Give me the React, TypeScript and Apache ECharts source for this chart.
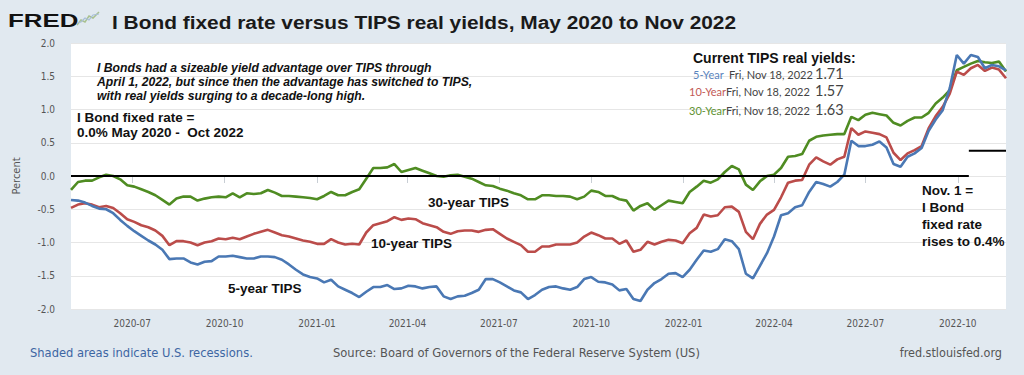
import React, { useEffect, useRef } from "react";
import * as echarts from "echarts";

// ---- Data (weekly, Fridays, May 1 2020 .. Nov 18 2022) ----
const FIRST_WEEK = [2020, 4, 1]; // 2020-05-01
const tips5: number[] = [
  -0.36, -0.37, -0.4, -0.45, -0.49, -0.5, -0.56, -0.66, -0.75, -0.83,
  -0.9, -0.97, -1.03, -1.11, -1.25, -1.24, -1.24, -1.3, -1.33, -1.29,
  -1.28, -1.21, -1.21, -1.2, -1.22, -1.24, -1.24, -1.21, -1.21, -1.22,
  -1.26, -1.33, -1.41, -1.48, -1.52, -1.54, -1.6, -1.56, -1.66, -1.71,
  -1.76, -1.82, -1.74, -1.67, -1.67, -1.64, -1.7, -1.69, -1.65, -1.66,
  -1.69, -1.67, -1.66, -1.81, -1.85, -1.81, -1.8, -1.76, -1.71, -1.55,
  -1.55, -1.6, -1.66, -1.72, -1.75, -1.85, -1.79, -1.71, -1.67, -1.66,
  -1.69, -1.71, -1.67, -1.55, -1.52, -1.59, -1.6, -1.63, -1.72, -1.7,
  -1.85, -1.88, -1.71, -1.61, -1.55, -1.47, -1.46, -1.52, -1.41, -1.26,
  -1.12, -1.14, -1.1, -0.95, -0.98, -1.1, -1.47, -1.54, -1.35, -1.16,
  -0.91, -0.59, -0.56, -0.47, -0.44, -0.24, -0.09, -0.12, -0.16, -0.09,
  0.02, 0.53, 0.45, 0.45, 0.47, 0.52, 0.43, 0.18, 0.14, 0.29,
  0.34, 0.42, 0.68, 0.85, 0.99, 1.32, 1.82, 1.69, 1.82, 1.79,
  1.62, 1.67, 1.65, 1.59,
];
const tips10: number[] = [
  -0.48, -0.43, -0.41, -0.43, -0.47, -0.45, -0.48, -0.56, -0.65, -0.69,
  -0.74, -0.77, -0.82, -0.9, -1.04, -0.98, -0.98, -1.0, -1.04, -1.0,
  -0.98, -0.94, -0.95, -0.93, -0.95, -0.91, -0.87, -0.84, -0.81, -0.85,
  -0.89, -0.91, -0.94, -0.97, -0.99, -1.02, -1.02, -0.95, -1.0, -1.03,
  -1.02, -1.03, -0.85, -0.74, -0.71, -0.68, -0.62, -0.66, -0.64, -0.65,
  -0.71, -0.74, -0.77, -0.84, -0.87, -0.83, -0.82, -0.82, -0.84, -0.81,
  -0.8, -0.87, -0.94, -0.99, -1.04, -1.14, -1.14, -1.06, -1.06, -1.03,
  -1.03, -1.03, -1.0, -0.91, -0.85, -0.89, -0.94, -0.94, -1.02, -0.97,
  -1.14, -1.11, -0.99, -1.03, -0.99, -0.96, -0.97, -1.01, -0.86, -0.78,
  -0.58, -0.61, -0.59, -0.47, -0.46, -0.54, -0.84, -0.95, -0.72, -0.58,
  -0.51, -0.32, -0.1, -0.07, -0.06, 0.17, 0.28, 0.22, 0.17, 0.25,
  0.29, 0.72, 0.62, 0.67, 0.65, 0.63, 0.58, 0.35, 0.24, 0.34,
  0.39, 0.45, 0.72, 0.9, 1.04, 1.24, 1.57, 1.52, 1.62, 1.67,
  1.58, 1.63, 1.6, 1.47,
];
const tips30: number[] = [
  -0.21, -0.09, -0.07, -0.07, -0.02, 0.02, 0.0, -0.05, -0.14, -0.16,
  -0.2, -0.24, -0.29, -0.36, -0.43, -0.34, -0.31, -0.31, -0.37, -0.34,
  -0.32, -0.31, -0.32, -0.26, -0.32, -0.26, -0.27, -0.26, -0.21, -0.25,
  -0.3, -0.3, -0.31, -0.32, -0.33, -0.35, -0.3, -0.24, -0.29, -0.29,
  -0.24, -0.2, -0.04, 0.12, 0.12, 0.13, 0.18, 0.06, 0.09, 0.12,
  0.08, 0.04, 0.0, -0.01, 0.01, 0.02, -0.01, -0.04, -0.09, -0.14,
  -0.15, -0.19, -0.22, -0.26, -0.29, -0.35, -0.35, -0.29, -0.29, -0.3,
  -0.3, -0.31, -0.35, -0.31, -0.22, -0.24, -0.3, -0.3, -0.35, -0.37,
  -0.52, -0.45, -0.41, -0.51, -0.44, -0.37, -0.39, -0.41, -0.24, -0.16,
  -0.07, -0.1, -0.05, 0.06, 0.15, 0.1, -0.13, -0.21, -0.08, 0.0,
  0.02, 0.12, 0.29, 0.3, 0.33, 0.53, 0.59, 0.61, 0.62, 0.63,
  0.63, 0.89, 0.84, 0.92, 0.95, 0.93, 0.91, 0.8, 0.76, 0.83,
  0.88, 0.88, 0.95, 1.09, 1.18, 1.29, 1.59, 1.64, 1.69, 1.73,
  1.71, 1.7, 1.72, 1.57,
];
// I Bond fixed-rate reference lines
const oldFixedDates = ["2020-05-01", "2022-10-12"];
const oldFixedValues = [0, 0];
const newFixedDates = ["2022-10-12", "2022-11-18"];
const newFixedValues = [0.38, 0.38];

const xMin = "2020-05-01";
const xMax = "2022-11-18";

const legendNames = ["5-Year", "10-Year", "30-Year"];
const legendDates = ["Fri, Nov 18, 2022", "Fri, Nov 18, 2022", "Fri, Nov 18, 2022"];
const legendValues = ["1.71", "1.57", "1.63"];

const COLORS = { t5: "#4a78b4", t10: "#bb4c4a", t30: "#4f8c22" };
const LEGEND_COLORS = ["#5a84bd", "#c25a56", "#5e9232"];

const ARIAL = "'Liberation Sans', Arial, sans-serif";
const NARROW = "'Liberation Sans Narrow', 'DejaVu Sans Condensed', 'Arial Narrow', 'Liberation Sans', sans-serif";

function weeklyDates(n: number): number[] {
  const out: number[] = [];
  for (let i = 0; i < n; i++) {
    out.push(new Date(FIRST_WEEK[0], FIRST_WEEK[1], FIRST_WEEK[2] + 7 * i).getTime());
  }
  return out;
}

function toTs(s: string): number {
  const [y, m, d] = s.split("-").map(Number);
  return new Date(y, m - 1, d).getTime();
}

function txt(x: number, y: number, text: string, font: string, fill: string, extra: any = {}) {
  return {
    type: "text",
    x,
    y,
    z: 100,
    silent: true,
    ...extra,
    style: {
      text,
      font,
      fill,
      align: extra.align || "left",
      textAlign: extra.align || "left",
      verticalAlign: "middle",
      textVerticalAlign: "middle",
    },
  };
}

export default function App() {
  const ref = useRef<HTMLDivElement>(null);
  useEffect(() => {
    if (!ref.current) return;
    const chart = echarts.init(ref.current, null, { renderer: "svg" });
    const dates = weeklyDates(tips5.length);
    const mk = (vals: number[]) => dates.map((d, i) => [d, vals[i]]);
    const DAY = 24 * 3600 * 1000;

    const graphics: any[] = [
      // FRED logo
      txt(8, 20, "FRED", `bold 19px ${ARIAL}`, "#111", { scaleX: 1.36 }),
      {
        type: "polyline",
        silent: true,
        z: 100,
        shape: { points: [[77, 25], [81, 20], [85, 22], [89, 16], [93, 18], [99, 12]] },
        style: { stroke: "#a9c18f", lineWidth: 1.5, fill: null },
      },
      {
        type: "polyline",
        silent: true,
        z: 100,
        shape: { points: [[77, 23], [81, 22], [85, 18], [89, 20], [93, 15], [99, 14]] },
        style: { stroke: "#a9bfd8", lineWidth: 1.2, fill: null },
      },
      txt(112, 23, "I Bond fixed rate versus TIPS real yields, May 2020 to Nov 2022", `bold 18px ${ARIAL}`, "#1a1a1a", { scaleX: 1.16 }),
      // italic note
      txt(97, 68, "I Bonds had a sizeable yield advantage over TIPS through", `italic bold 12.2px ${ARIAL}`, "#111"),
      txt(97, 82, "April 1, 2022, but since then the advantage has switched to TIPS,", `italic bold 12.2px ${ARIAL}`, "#111"),
      txt(97, 96, "with real yields surging to a decade-long high.", `italic bold 12.2px ${ARIAL}`, "#111"),
      // fixed-rate annotation
      txt(77, 117, "I Bond fixed rate =", `bold 13.5px ${ARIAL}`, "#111"),
      txt(77, 132, "0.0% May 2020 -  Oct 2022", `bold 13.5px ${ARIAL}`, "#111"),
      // series labels
      txt(428, 202, "30-year TIPS", `bold 13.5px ${ARIAL}`, "#111"),
      txt(371, 243, "10-year TIPS", `bold 13.5px ${ARIAL}`, "#111"),
      txt(228, 288, "5-year TIPS", `bold 13.5px ${ARIAL}`, "#111"),
      // Nov 1 note
      txt(922, 190, "Nov. 1 =", `bold 13.5px ${ARIAL}`, "#111"),
      txt(922, 207, "I Bond", `bold 13.5px ${ARIAL}`, "#111"),
      txt(922, 224, "fixed rate", `bold 13.5px ${ARIAL}`, "#111"),
      txt(922, 241, "rises to 0.4%", `bold 13.5px ${ARIAL}`, "#111"),
      // current yields box
      txt(693, 58, "Current TIPS real yields:", `bold 14px ${ARIAL}`, "#111"),
      // footer
      txt(30, 352, "Shaded areas indicate U.S. recessions.", `12.8px ${NARROW}`, "#3d66a3"),
      txt(333, 352, "Source: Board of Governors of the Federal Reserve System (US)", `12.8px ${NARROW}`, "#555"),
      txt(1002, 352, "fred.stlouisfed.org", `12.5px ${NARROW}`, "#555", { align: "right" }),
    ];
    const rowY = [74, 91, 110];
    const nameX = [693, 689, 689];
    const dateX = [729, 726, 726];
    legendNames.forEach((n, i) => {
      graphics.push(txt(nameX[i], rowY[i], n, `11px Lato, ${ARIAL}`, LEGEND_COLORS[i]));
      graphics.push(txt(dateX[i], rowY[i], legendDates[i], `11px Lato, ${ARIAL}`, "#444"));
      graphics.push(txt(815, rowY[i] - 1, legendValues[i], `14.5px Lato, ${ARIAL}`, "#444"));
    });

    const line = (name: string, vals: number[], color: string, z: number) => ({
      name,
      type: "line",
      data: mk(vals),
      showSymbol: false,
      symbol: "none",
      lineStyle: { color, width: 2.6 },
      itemStyle: { color },
      z,
      silent: true,
    });

    chart.setOption({
      animation: false,
      backgroundColor: "#e1e9f0",
      grid: {
        left: 71,
        right: 18,
        top: 43,
        bottom: 66,
        show: true,
        backgroundColor: "#ffffff",
        borderWidth: 0,
        containLabel: false,
        outerBoundsMode: "none",
      },
      xAxis: {
        type: "time",
        min: toTs(xMin),
        max: toTs(xMax),
        splitNumber: 10,
        minInterval: 92 * DAY,
        maxInterval: 92 * DAY,
        axisLine: { show: false },
        axisTick: { show: true, length: 7, lineStyle: { color: "#c8ced4" } },
        splitLine: { show: false },
        axisLabel: {
          showMinLabel: false,
          showMaxLabel: false,
          color: "#555",
          fontSize: 10,
          fontFamily: NARROW,
          margin: 9,
          hideOverlap: false,
          formatter: (v: number) => {
            const d = new Date(v);
            const m = d.getMonth() + 1;
            return `${d.getFullYear()}-${m < 10 ? "0" + m : m}`;
          },
        },
      },
      yAxis: {
        type: "value",
        min: -2,
        max: 2,
        interval: 0.5,
        name: "Percent",
        nameLocation: "middle",
        nameGap: 49,
        nameTextStyle: { color: "#555", fontSize: 11, fontFamily: NARROW },
        axisLine: { show: false },
        axisTick: { show: false },
        splitLine: { lineStyle: { color: "#e6e6e6", width: 1 } },
        axisLabel: {
          color: "#555",
          fontSize: 10,
          fontFamily: NARROW,
          margin: 16,
          formatter: (v: number) => v.toFixed(1),
        },
      },
      series: [
        line("30-Year", tips30, COLORS.t30, 2),
        line("10-Year", tips10, COLORS.t10, 3),
        line("5-Year", tips5, COLORS.t5, 4),
        {
          name: "I Bond fixed rate",
          type: "line",
          data: oldFixedDates.map((d, i) => [toTs(d), oldFixedValues[i]]),
          showSymbol: false,
          symbol: "none",
          lineStyle: { color: "#000", width: 2 },
          z: 6,
          silent: true,
        },
        {
          name: "New I Bond fixed rate",
          type: "line",
          data: newFixedDates.map((d, i) => [toTs(d), newFixedValues[i]]),
          showSymbol: false,
          symbol: "none",
          lineStyle: { color: "#000", width: 2 },
          z: 6,
          silent: true,
        },
      ],
      graphic: { elements: graphics },
    });
    return () => chart.dispose();
  }, []);
  return (
    <div
      ref={ref}
      style={{ position: "fixed", left: 0, top: 0, width: 1024, height: 375 }}
    />
  );
}
